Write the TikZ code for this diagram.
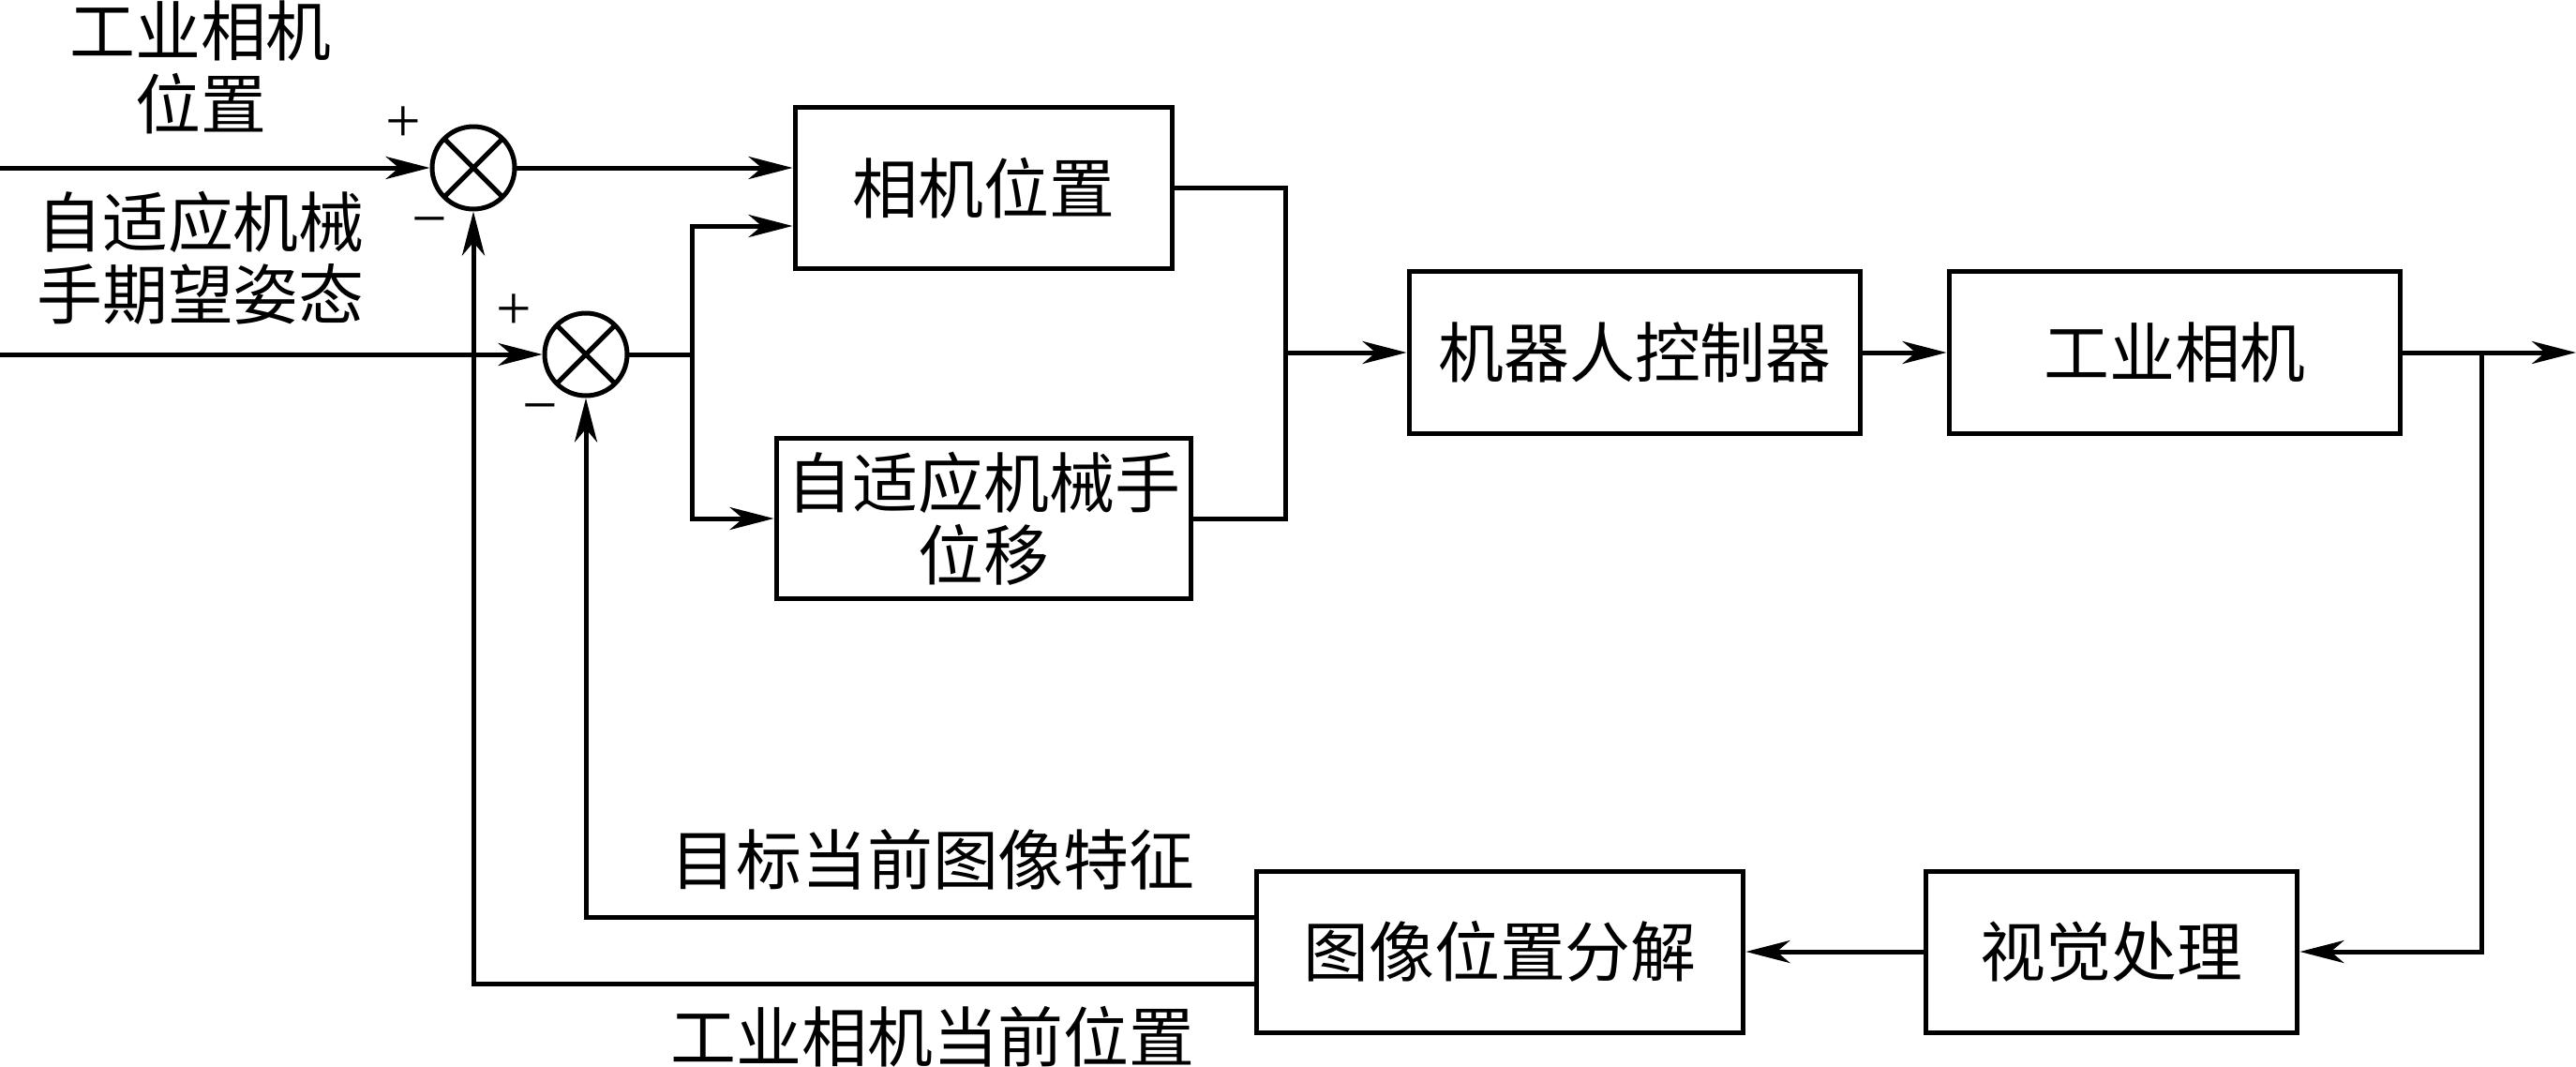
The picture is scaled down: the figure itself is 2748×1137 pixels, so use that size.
\documentclass[tikz,border=0pt]{standalone}
\usepackage{fontspec}
\setmainfont{Liberation Serif}
\newfontfamily\cjk{Noto Sans CJK SC}
\usetikzlibrary{arrows.meta}
\begin{document}
\begin{tikzpicture}[x=0.02cm,y=-0.02cm,
  line width=0.1cm,
  arr/.style={-{Stealth[length=0.94cm,width=0.48cm,inset=0.28cm]}},
  blk/.style={draw,rectangle,inner sep=0pt,font=\cjk\fontsize{39.8}{44}\selectfont,align=center},
  sumj/.style={draw,circle,minimum size=1.76cm,inner sep=0pt,
    path picture={\draw[line width=0.1cm] (path picture bounding box.north west) -- (path picture bounding box.south east)
      (path picture bounding box.north east) -- (path picture bounding box.south west);}},
  lbl/.style={inner sep=0pt,font=\cjk\fontsize{39.8}{44}\selectfont,align=center},
  sgn/.style={inner sep=0pt,font=\fontsize{38}{38}\selectfont}]
\useasboundingbox (0,0) rectangle (2748,1137);
% summing junctions
\node[sumj] (s1) at (505,179) {};
\node[sumj] (s2) at (625,378) {};
% blocks
\node[blk,minimum width=8.06cm,minimum height=3.46cm] (b1) at (1049.5,200.5) {相机位置};
\node[blk,minimum width=8.86cm,minimum height=3.44cm] (b2) at (1049.5,553) {自适应机械手\\位移};
\node[blk,minimum width=9.64cm,minimum height=3.46cm] (b3) at (1744,376) {机器人控制器};
\node[blk,minimum width=9.64cm,minimum height=3.46cm] (b4) at (2320,376) {工业相机};
\node[blk,minimum width=10.4cm,minimum height=3.44cm] (b5) at (1600,1015) {图像位置分解};
\node[blk,minimum width=7.94cm,minimum height=3.44cm] (b6) at (2252.5,1015) {视觉处理};
% labels
\node[lbl] (l1) at (214,72) {工业相机\\位置};
\node[lbl] (l2) at (214,275) {自适应机械\\手期望姿态};
\node[lbl] (l3) at (995,917) {目标当前图像特征};
\node[lbl] (l4) at (995,1106) {工业相机当前位置};
\node[sgn] (p1) at (430,133) {+};
\node[sgn] (m1) at (458,244) {−};
\node[sgn] (p2) at (548,333) {+};
\node[sgn] (m2) at (576,443) {−};
% coordinates
\coordinate (in1) at (0,179);
\coordinate (in2) at (0,378);
\coordinate (j1) at (738,378);
\coordinate (j2) at (1371,376);
\coordinate (j3) at (2647,376);
\coordinate (out) at (2748,376);
% connectors
\draw[arr] (in1) -- (s1.west);
\draw[arr] (in2) -- (s2.west);
\draw[arr] (s1.east) -- (s1.east -| b1.west);
\draw (s2.east) -- (j1);
\draw[arr] (j1) |- (b1.west |- 0,241);
\draw[arr] (j1) |- (b2.west);
\draw (b1.east) -| (j2);
\draw (b2.east) -| (j2);
\draw[arr] (j2) -- (b3.west);
\draw[arr] (b3.east) -- (b4.west);
\draw[arr] (b4.east) -- (out);
\draw[arr] (j3) |- (b6.east);
\draw[arr] (b6.west) -- (b5.east);
\draw[arr] (b5.west |- 0,978) -| (s2.south);
\draw[arr] (b5.west |- 0,1049) -| (s1.south);
\end{tikzpicture}
\end{document}
